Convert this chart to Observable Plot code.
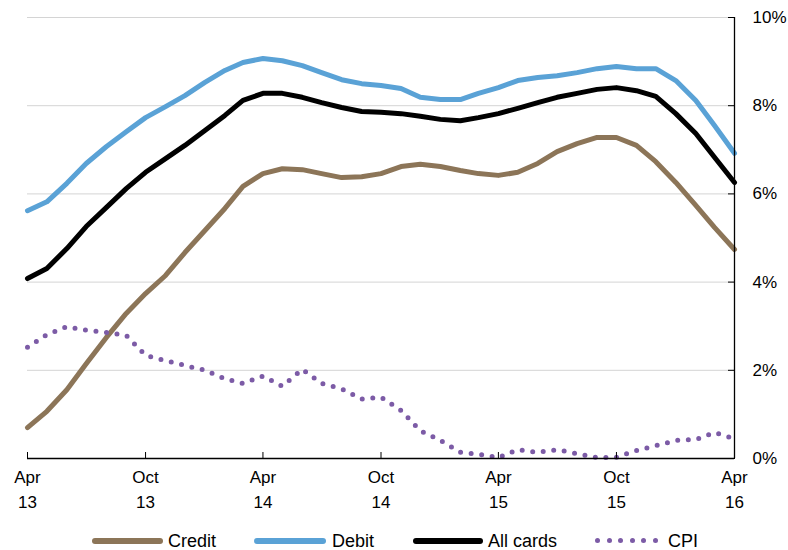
<!DOCTYPE html>
<html><head><meta charset="utf-8">
<script src="https://cdn.jsdelivr.net/npm/d3@7"></script>
<script src="https://cdn.jsdelivr.net/npm/@observablehq/plot@0.6"></script>
<style>
body{margin:0;background:#fff;font-family:"Liberation Sans",Arial,sans-serif;}
#wrap{position:relative;width:788px;height:550px;overflow:hidden;}
#wrap svg{position:absolute;left:0;top:0;}
.lt{position:absolute;top:533px;font-size:18px;line-height:17px;color:#000;white-space:nowrap;}
.sw{position:absolute;top:538px;height:6px;border-radius:3px;}
.dot{position:absolute;top:538px;width:5px;height:5px;border-radius:50%;}
</style></head><body><div id="wrap"></div>
<script>
// Monthly categories Apr 2013 .. Apr 2016
const startMonth = "2013-04-01";
const endMonth = "2016-04-01";
const credit = [0.70,1.07,1.56,2.15,2.74,3.29,3.74,4.15,4.67,5.17,5.67,6.17,6.46,6.57,6.55,6.46,6.37,6.39,6.46,6.62,6.67,6.62,6.53,6.46,6.42,6.49,6.69,6.96,7.14,7.28,7.28,7.10,6.73,6.26,5.74,5.24,4.74];
const debit = [5.62,5.82,6.24,6.69,7.07,7.41,7.73,7.98,8.23,8.53,8.80,8.98,9.07,9.02,8.91,8.75,8.59,8.50,8.46,8.39,8.19,8.14,8.14,8.28,8.41,8.57,8.64,8.68,8.75,8.84,8.89,8.84,8.84,8.57,8.12,7.55,6.92];
const allCards = [4.08,4.31,4.76,5.26,5.69,6.12,6.49,6.80,7.10,7.44,7.78,8.12,8.28,8.28,8.19,8.07,7.96,7.87,7.85,7.82,7.76,7.69,7.66,7.73,7.82,7.94,8.07,8.19,8.28,8.37,8.41,8.34,8.21,7.82,7.37,6.83,6.26];
const cpi = [2.52,2.81,2.99,2.91,2.86,2.79,2.34,2.22,2.11,2.00,1.81,1.70,1.87,1.64,2.02,1.70,1.58,1.35,1.39,1.09,0.63,0.41,0.14,0.10,0.02,0.20,0.14,0.20,0.11,0.02,0.03,0.18,0.29,0.41,0.43,0.59,0.45];
const yTicks = [0,2,4,6,8,10];
const xTickDates = ["2013-04-01","2013-10-01","2014-04-01","2014-10-01","2015-04-01","2015-10-01","2016-04-01"];
const xTickMonths = ["Apr","Oct","Apr","Oct","Apr","Oct","Apr"];
const xTickYears = ["13","13","14","14","15","15","16"];

const colors = {credit:"#8c7558", debit:"#5aa2d6", all:"#000000", cpi:"#7c5ba6"};

const months = d3.utcMonth.range(new Date(startMonth), d3.utcMonth.offset(new Date(endMonth), 1));
const mk = arr => arr.map((v,i)=>({date:months[i], value:v}));
const xt = xTickDates.map(d=>new Date(d));
const fmtMonth = d => xTickMonths[xt.findIndex(t=>+t===+d)];
const fmtYear = d => xTickYears[xt.findIndex(t=>+t===+d)];
const endDate = new Date(endMonth);

const chart = Plot.plot({
  width:788, height:515,
  marginLeft:27, marginRight:54, marginTop:17, marginBottom:57,
  style:{fontFamily:"'Liberation Sans', Arial, sans-serif", fontSize:"17px", color:"#000", background:"#fff", overflow:"visible"},
  x:{type:"utc", domain:[new Date(startMonth), endDate], label:null},
  y:{domain:[0,10], label:null},
  marks:[
    Plot.ruleY(yTicks.filter(v=>v>0), {stroke:"#d4d4d4", strokeWidth:1}),
    Plot.lineY(mk(credit), {x:"date", y:"value", stroke:colors.credit, strokeWidth:5, strokeLinejoin:"round"}),
    Plot.lineY(mk(debit), {x:"date", y:"value", stroke:colors.debit, strokeWidth:5, strokeLinejoin:"round"}),
    Plot.lineY(mk(allCards), {x:"date", y:"value", stroke:colors.all, strokeWidth:5, strokeLinejoin:"round"}),
    Plot.lineY(mk(cpi), {x:"date", y:"value", stroke:colors.cpi, strokeWidth:5, strokeLinecap:"round", strokeDasharray:"0,10.6"}),
    Plot.ruleY([0], {stroke:"#000", strokeWidth:1.5}),
    Plot.ruleX([endDate], {y1:0, y2:10, stroke:"#000", strokeWidth:1.3}),
    Plot.axisY(yTicks, {anchor:"right", tickSize:7, tickFormat:()=>"", dx:-7, label:null}),
    Plot.axisY(yTicks, {anchor:"right", tickSize:0, tickPadding:18, tickFormat:d=>d+"%", label:null}),
    Plot.axisX(xt, {tickSize:6, tickFormat:()=>"", dy:-6, label:null}),
    Plot.axisX(xt, {tickSize:0, tickPadding:12, tickFormat:fmtMonth, label:null}),
    Plot.axisX(xt, {tickSize:0, tickPadding:37, tickFormat:fmtYear, label:null})
  ]
});
const wrap = document.getElementById("wrap");
wrap.appendChild(chart);

// Legend
const legend = [
  {label:"Credit", color:colors.credit, x0:92, x1:163, tx:168, type:"line"},
  {label:"Debit", color:colors.debit, x0:254, x1:326, tx:332, type:"line"},
  {label:"All cards", color:colors.all, x0:413, x1:483, tx:488, type:"line"},
  {label:"CPI", color:colors.cpi, x0:595, x1:658, tx:668, type:"dots"}
];
for (const it of legend) {
  if (it.type === "line") {
    const s = document.createElement("div");
    s.className = "sw";
    s.style.left = it.x0 + "px";
    s.style.width = (it.x1 - it.x0) + "px";
    s.style.background = it.color;
    wrap.appendChild(s);
  } else {
    const n = 6, step = (it.x1 - it.x0 - 5) / (n - 1);
    for (let k = 0; k < n; k++) {
      const d = document.createElement("div");
      d.className = "dot";
      d.style.left = (it.x0 + k*step) + "px";
      d.style.background = it.color;
      wrap.appendChild(d);
    }
  }
  const t = document.createElement("div");
  t.className = "lt";
  t.style.left = it.tx + "px";
  t.textContent = it.label;
  wrap.appendChild(t);
}
</script></body></html>
